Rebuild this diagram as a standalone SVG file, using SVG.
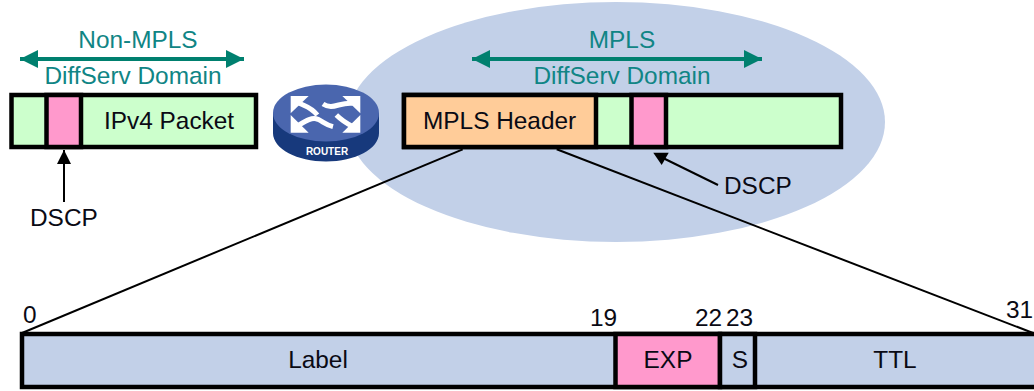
<svg xmlns="http://www.w3.org/2000/svg" width="1034" height="391" viewBox="0 0 1034 391">
<style>
text{font-family:"Liberation Sans",Arial,sans-serif;font-size:24.4px;fill:#0a0a14}
.m{text-anchor:middle}
.t{fill:#108585}
.b{stroke:#000;stroke-width:4.5}
.g{fill:#CCFFCC}.p{fill:#FF99CC}.o{fill:#FFCC99}.u{fill:#C2D0E8}
.l{stroke:#000;stroke-width:2;fill:none}
.d{stroke:#00806F;stroke-width:4;fill:none}
.rw{fill:#fff}
.rs{fill:none;stroke:#fff;stroke-width:15}
</style>
<defs>
<marker id="a" markerUnits="userSpaceOnUse" markerWidth="14" markerHeight="14" refX="14" refY="7" orient="auto"><path d="M0 0L14 7L0 14Z" fill="#000"/></marker>
<marker id="dd" markerUnits="userSpaceOnUse" markerWidth="18" markerHeight="18" refX="18" refY="9" orient="auto-start-reverse"><path d="M0 0L18 9L0 18Z" fill="#00806F"/></marker>
</defs>
<ellipse id="mpls-domain" cx="616" cy="122" rx="269" ry="120" fill="#C2D0E8"/>
<g id="non-mpls-domain-label"><text class="m t" x="138" y="48">Non-MPLS</text><text class="m t" x="133" y="84">DiffServ Domain</text></g>
<g id="mpls-domain-label"><text class="m t" x="622" y="48">MPLS</text><text class="m t" x="622" y="84">DiffServ Domain</text></g>
<g id="ipv4-packet">
<rect class="g b" x="11.5" y="95" width="244.5" height="52"/>
<rect class="p b" x="46.5" y="95" width="34.5" height="52"/>
<text x="104" y="129">IPv4 Packet</text>
</g>
<g id="router">
<path d="M273 113V133C273 149 297 161.500 326 161.500C355 161.500 379 149 379 133V113Z" fill="#17397C"/>
<ellipse cx="326" cy="113" rx="53" ry="28.500" fill="#4A66AE"/>
<g transform="translate(268 80) scale(.3333)">
<path class="rw" d="M68 48H122L68 100Z"/><path class="rw" d="M277 48H223L277 100Z"/><path class="rw" d="M68 158H122L68 105Z"/><path class="rw" d="M277 158H223L277 105Z"/>
<path class="rs" d="M85 65C110 80 125 78 148 105"/>
<path class="rs" d="M165 72C195 92 215 65 255 70"/>
<path class="rs" d="M85 140C110 125 130 110 150 118C165 125 175 135 195 140"/>
<path class="rs" d="M255 140C235 130 225 125 205 105"/>
</g>
<text class="m" x="327" y="155" style="font-size:10px;font-weight:700;fill:#fff">ROUTER</text>
</g>
<g id="mpls-packet">
<rect class="g b" x="404" y="95" width="437" height="52"/>
<rect class="o b" x="404" y="95" width="192" height="52"/>
<rect class="p b" x="631.500" y="95" width="34.500" height="52"/>
<text x="423" y="129">MPLS Header</text>
</g>
<g id="mpls-fields">
<rect class="u b" x="22" y="334" width="1015" height="53"/>
<rect class="p b" x="615.500" y="334" width="104.500" height="53"/>
<rect class="u b" x="720" y="334" width="35" height="53"/>
<text class="m" x="318" y="368">Label</text>
<text class="m" x="668" y="368">EXP</text>
<text class="m" x="740" y="368">S</text>
<text class="m" x="895" y="368">TTL</text>
</g>
<g id="bit-labels">
<text x="23" y="323">0</text><text x="590" y="326">19</text><text x="695" y="326">22</text><text x="726" y="326">23</text><text x="1006" y="318">31</text>
</g>
<g id="dscp-labels">
<text x="30" y="226">DSCP</text>
<text x="724" y="194">DSCP</text>
</g>
<g id="connectors">
<path class="d" d="M20 59H244" marker-start="url(#dd)" marker-end="url(#dd)"/>
<path class="d" d="M472 59H762" marker-start="url(#dd)" marker-end="url(#dd)"/>
<path class="l" d="M64 202V150" marker-end="url(#a)"/>
<path class="l" d="M718 185L663 158"/>
<path d="M653.300 152.700H668.700L661.700 165Z" fill="#000"/>
<path class="l" d="M462.700 149.300L22 333"/>
<path class="l" d="M556.700 149.300L1033 333"/>
</g>
</svg>
